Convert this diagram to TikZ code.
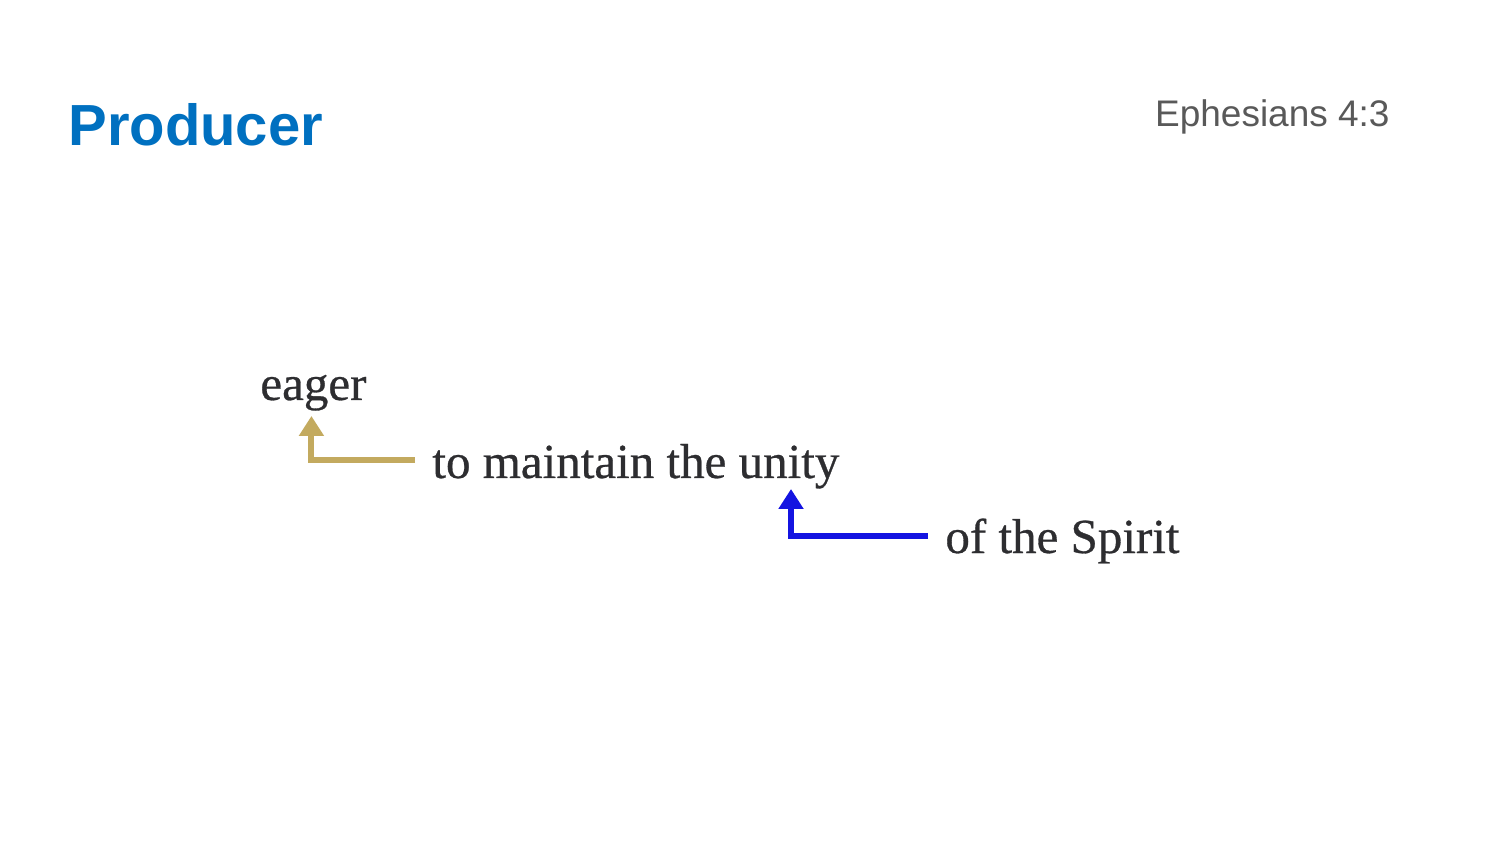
\documentclass[tikz,border=0pt]{standalone}
\usepackage{fontspec}
\setmainfont{Liberation Serif}
\newfontfamily\sansf{Liberation Sans}
\newfontfamily\serf[FakeBold=0.6]{Liberation Serif}
\usetikzlibrary{arrows.meta}
\definecolor{titleblue}{RGB}{0,112,192}
\definecolor{refgray}{RGB}{89,89,89}
\definecolor{textdark}{RGB}{45,45,48}
\definecolor{goldc}{RGB}{195,170,95}
\definecolor{bluec}{RGB}{20,20,225}
\tikzset{
  wordnode/.style={anchor=base west, inner sep=0pt, text=textdark, font=\serf\fontsize{24.5pt}{28pt}\selectfont},
  conn/.style={line width=3pt, line join=miter, -{Triangle[width=12pt,length=10pt]}},
}
\begin{document}
\begin{tikzpicture}[x=0.5pt,y=-0.5pt]
\useasboundingbox (0,0) rectangle (1500,844);
\node[anchor=base west, inner sep=0pt, text=titleblue, font=\sansf\bfseries\fontsize{29pt}{33pt}\selectfont] (title) at (68,146) {Producer};
\node[anchor=base east, inner sep=0pt, text=refgray, font=\sansf\fontsize{18.5pt}{22pt}\selectfont] (ref) at (1390,127) {Ephesians 4:3};
\node[wordnode] (eager) at (260,400) {eager};
\node[wordnode] (tm) at (432,478) {to maintain the unity};
\node[wordnode] (spirit) at (945,553) {of the Spirit};
\draw[conn, goldc] ([shift={(-17,-18)}]tm.base west) -| ([shift={(-2,5)}]eager.south);
\draw[conn, bluec] ([shift={(-17,-17)}]spirit.base west) -| ([shift={(359,11)}]tm.base west);
\end{tikzpicture}
\end{document}
